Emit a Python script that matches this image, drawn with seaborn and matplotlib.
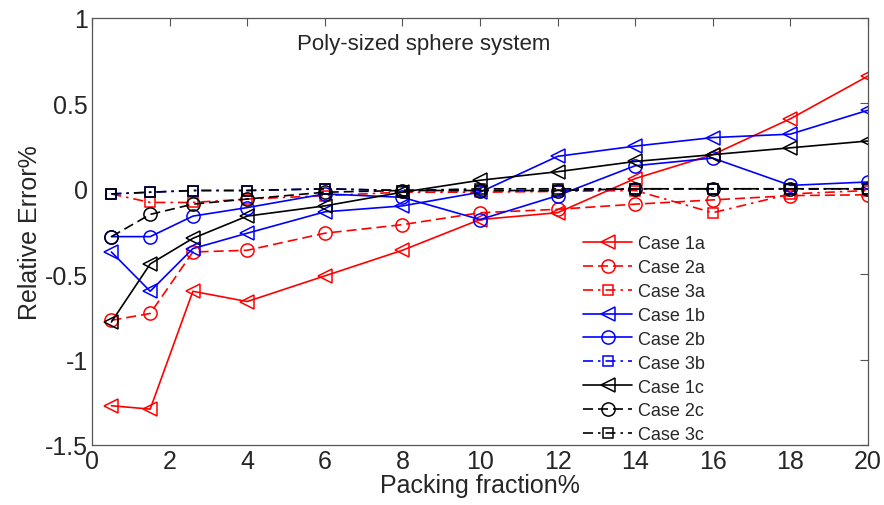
import matplotlib
matplotlib.use('Agg')
import matplotlib.pyplot as plt
import seaborn as sns
import pandas as pd
from matplotlib.ticker import FuncFormatter

FIGURE_FILENAME = 'out.png'

packing_fraction = [0.5, 1.5, 2.6, 4, 6, 8, 10, 12, 14, 16, 18, 20]

case_1a = [-1.27, -1.29, -0.60, -0.66, -0.51, -0.36, -0.18, -0.14, 0.06, 0.20, 0.41, 0.66]
case_2a = [-0.77, -0.73, -0.37, -0.36, -0.26, -0.21, -0.14, -0.12, -0.09, -0.065, -0.04, -0.035]
case_3a = [-0.03, -0.08, -0.08, -0.06, -0.04, -0.02, -0.02, -0.015, -0.01, -0.14, -0.03, -0.01]
case_1b = [-0.37, -0.60, -0.35, -0.26, -0.135, -0.10, -0.02, 0.19, 0.25, 0.30, 0.32, 0.46]
case_2b = [-0.28, -0.28, -0.16, -0.11, -0.03, -0.05, -0.18, -0.04, 0.135, 0.18, 0.02, 0.04]
case_3b = [-0.03, -0.02, -0.01, -0.01, 0.0, -0.01, -0.01, -0.01, 0.0, 0.0, 0.0, 0.0]
case_1c = [-0.78, -0.44, -0.29, -0.16, -0.10, -0.02, 0.05, 0.10, 0.16, 0.20, 0.24, 0.28]
case_2c = [-0.28, -0.15, -0.09, -0.06, -0.02, -0.01, -0.01, -0.01, 0.0, 0.0, 0.0, 0.0]
case_3c = [-0.03, -0.02, -0.01, -0.01, 0.0, -0.01, 0.0, 0.0, 0.0, 0.0, 0.0, 0.0]

case_names = ['Case 1a', 'Case 2a', 'Case 3a', 'Case 1b', 'Case 2b', 'Case 3b',
              'Case 1c', 'Case 2c', 'Case 3c']
case_values = [case_1a, case_2a, case_3a, case_1b, case_2b, case_3b,
               case_1c, case_2c, case_3c]

x_ticks = [0, 2, 4, 6, 8, 10, 12, 14, 16, 18, 20]
y_ticks = [-1.5, -1, -0.5, 0, 0.5, 1]

# style per case: colour by letter, marker by number
COLORS = {'a': '#ff0000', 'b': '#0000ff', 'c': '#000000'}
MARKERS = {'1': '<', '2': 'o', '3': 's'}
MSIZE = {'1': 10, '2': 9.5, '3': 7.5}
SOLID, DASH, DASHDOT = '', (6, 3), (6, 3, 1.5, 3)
LINESTYLES = {'Case 1a': SOLID, 'Case 2a': DASH, 'Case 3a': DASHDOT,
              'Case 1b': SOLID, 'Case 2b': SOLID, 'Case 3b': DASHDOT,
              'Case 1c': SOLID, 'Case 2c': DASH, 'Case 3c': DASHDOT}


def plot_relative_error():
    fig, ax = plt.subplots(figsize=(8.84, 5.06), dpi=100)
    fig.subplots_adjust(left=92 / 884, right=868 / 884, top=1 - 19 / 506, bottom=1 - 446 / 506)

    for name, vals in zip(case_names, case_values):
        num, letter = name[-2], name[-1]
        df = pd.DataFrame({'x': packing_fraction, 'y': vals})
        color = COLORS[letter]
        line_kws = dict(color=color, marker=MARKERS[num], markersize=MSIZE[num],
                        markerfacecolor='none', markeredgecolor=color, markeredgewidth=1.1,
                        linewidth=1.2, label=name)
        if LINESTYLES[name]:
            line_kws['dashes'] = LINESTYLES[name]
        sns.lineplot(data=df, x='x', y='y', ax=ax, **line_kws)

    ax.set_xlim(0, 20)
    ax.set_ylim(-1.5, 1)
    ax.set_xticks(x_ticks)
    ax.set_yticks(y_ticks)
    ax.yaxis.set_major_formatter(FuncFormatter(lambda v, p: '%g' % v))
    ax.tick_params(direction='in', length=6, width=0.8, color='#555555',
                   top=True, right=True, labelsize=18, pad=3)
    for sp in ax.spines.values():
        sp.set_color('#555555')
        sp.set_linewidth(0.9)

    ax.set_xlabel('Packing fraction%', fontsize=18, labelpad=0)
    ax.set_ylabel('Relative Error%', fontsize=18, labelpad=2)
    ax.text(0.427, 0.94, 'Poly-sized sphere system', transform=ax.transAxes,
            ha='center', va='center', fontsize=16)

    ax.legend(loc='upper left', bbox_to_anchor=(0.633, 0.491), frameon=False,
              fontsize=13, handlelength=2.7, handletextpad=0.35, labelspacing=0.38,
              borderpad=0, borderaxespad=0)

    fig.savefig(FIGURE_FILENAME, dpi=100)
    return fig


def main():
    sns.set_style('white')
    plt.rcParams['font.family'] = ['Liberation Sans', 'DejaVu Sans']
    plot_relative_error()


if __name__ == '__main__':
    main()
